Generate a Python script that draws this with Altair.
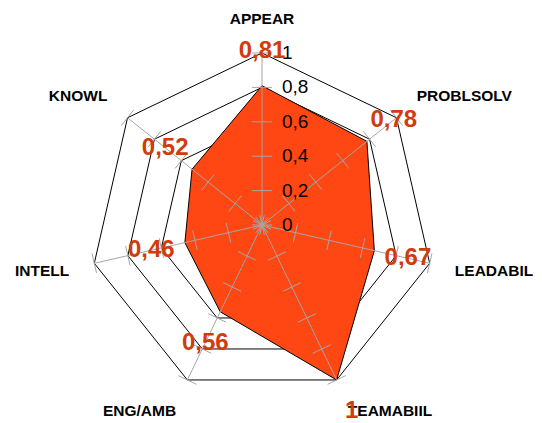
import math
import altair as alt
import pandas as pd

categories = ["APPEAR", "PROBLSOLV", "LEADABIL", "TEAMABIIL", "ENG/AMB", "INTELL", "KNOWL"]
values = [0.81, 0.78, 0.67, 1.0, 0.56, 0.46, 0.52]
value_labels = ["0,81", "0,78", "0,67", "1", "0,56", "0,46", "0,52"]
tick_values = [0, 0.2, 0.4, 0.6, 0.8, 1.0]
tick_labels = ["0", "0,2", "0,4", "0,6", "0,8", "1"]

FILL = "#FF4713"
LABEL_RED = "#D03C0C"
GRAY = "#A6A6A6"
FONT = "Liberation Sans"

n = len(categories)
ang = [2 * math.pi * k / n for k in range(n)]

def pt(r, a):
    return r * math.sin(a), r * math.cos(a)

# grid polygons
grid_rows = []
for lv in tick_values[1:]:
    for k in range(n + 1):
        x, y = pt(lv, ang[k % n])
        grid_rows.append({"lvl": lv, "i": k, "x": x, "y": y})
grid_df = pd.DataFrame(grid_rows)

# data polygon
poly_rows = []
for k in range(n + 1):
    x, y = pt(values[k % n], ang[k % n])
    poly_rows.append({"i": k, "x": x, "y": y})
poly_df = pd.DataFrame(poly_rows)

# spokes
spoke_rows = []
for k in range(n):
    x, y = pt(1.0, ang[k])
    spoke_rows.append({"x": 0.0, "y": 0.0, "x2": x, "y2": y})
spoke_df = pd.DataFrame(spoke_rows)

# tick marks across spokes
half = 0.058
tick_rows = []
for k in range(n):
    a = ang[k]
    px, py = math.cos(a), -math.sin(a)
    for t in tick_values:
        cx, cy = pt(t, a)
        tick_rows.append({"x": cx - half * px, "y": cy - half * py,
                          "x2": cx + half * px, "y2": cy + half * py})
tick_df = pd.DataFrame(tick_rows)

# tick labels on the top spoke
tl_df = pd.DataFrame({"x": [0.0] * len(tick_values), "y": tick_values, "t": tick_labels})

# category labels
cat_rows = []
for k in range(n):
    a = ang[k]
    s = math.sin(a)
    cat_rows.append({"x": 1.15 * s, "y": 1.2 * math.cos(a), "t": categories[k],
                     "al": "center" if abs(s) < 0.1 else ("left" if s > 0 else "right")})
cat_df = pd.DataFrame(cat_rows)

# value labels
vl_rows = []
for k in range(n):
    x, y = pt(values[k] + 0.2, ang[k])
    vl_rows.append({"x": x, "y": y, "t": value_labels[k]})
vl_df = pd.DataFrame(vl_rows)

R = 172.0
W, H = 526, 414
cxp, cyp = 254.0, 217.0
xs = alt.Scale(domain=[-cxp / R, (W - cxp) / R], nice=False, zero=False)
ys = alt.Scale(domain=[-(H - cyp) / R, cyp / R], nice=False, zero=False)
X = alt.X("x:Q", scale=xs, axis=None)
Y = alt.Y("y:Q", scale=ys, axis=None)

grid = alt.Chart(grid_df).mark_line(color="black", strokeWidth=1).encode(
    x=X, y=Y, detail="lvl:N", order="i:Q")

poly = alt.Chart(poly_df).mark_line(fill=FILL, stroke="black", strokeWidth=1, filled=False).encode(
    x=X, y=Y, order="i:Q")

spokes = alt.Chart(spoke_df).mark_rule(color=GRAY, strokeWidth=1).encode(
    x=X, y=Y, x2="x2:Q", y2="y2:Q")

ticks = alt.Chart(tick_df).mark_rule(color=GRAY, strokeWidth=1).encode(
    x=X, y=Y, x2="x2:Q", y2="y2:Q")

tlabels = alt.Chart(tl_df).mark_text(align="left", baseline="middle", dx=20, font=FONT,
                                     fontSize=19, color="black").encode(x=X, y=Y, text="t:N")

layers = [grid, poly, spokes, ticks, tlabels]
for al in ["center", "left", "right"]:
    sub = cat_df[cat_df["al"] == al]
    layers.append(alt.Chart(sub).mark_text(align=al, baseline="middle", font=FONT, fontSize=15.5,
                                           fontWeight="bold", color="black").encode(x=X, y=Y, text="t:N"))

vlabels = alt.Chart(vl_df).mark_text(align="center", baseline="middle", font=FONT, fontSize=24,
                                     fontWeight="bold", color=LABEL_RED).encode(x=X, y=Y, text="t:N")
layers.append(vlabels)

chart = alt.layer(*layers).properties(
    width=W, height=H, autosize=alt.AutoSizeParams(type="none"), padding=0
).configure_view(stroke=None)

chart.save("out.html", embed_options={"renderer": "svg", "actions": False})
